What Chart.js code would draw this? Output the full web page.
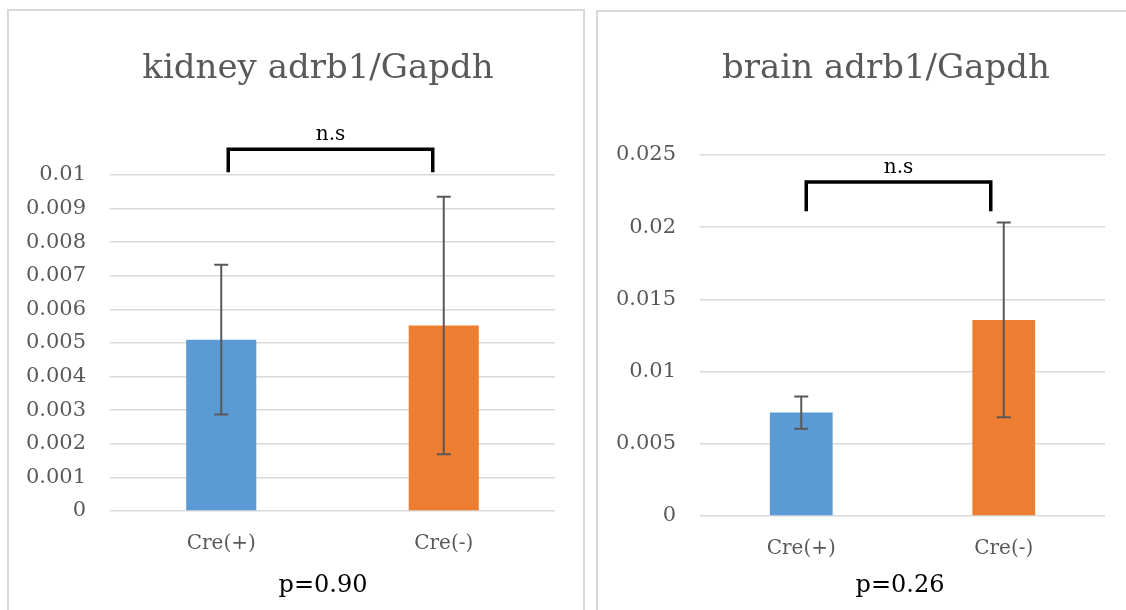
<!DOCTYPE html>
<html>
<head>
<meta charset="utf-8">
<script src="https://cdn.jsdelivr.net/npm/chart.js@4"></script>
<style>
  html, body { margin: 0; padding: 0; background: #fff; overflow: hidden; }
  body { width: 1126px; height: 610px; position: relative; }
  .panel { position: absolute; box-sizing: border-box; border: 2px solid #d9d9d9; height: 700px; }
  canvas { position: absolute; top: 0; }
</style>
</head>
<body>
<div class="panel" style="left:7px; top:9px; width:578px;"></div>
<div class="panel" style="left:596px; top:10px; width:600px;"></div>
<canvas id="kidney" width="590" height="610" style="left:0;"></canvas>
<canvas id="brain" width="536" height="610" style="left:590px;"></canvas>
<script>
const categories = ['Cre(+)', 'Cre(-)'];

const kidneyMeans = [0.00510, 0.00552];
const kidneyErrors = [0.00223, 0.00383];
const kidneyTicks = [0, 0.001, 0.002, 0.003, 0.004, 0.005, 0.006, 0.007, 0.008, 0.009, 0.01];

const brainMeans = [0.00716, 0.01358];
const brainErrors = [0.00112, 0.00674];
const brainTicks = [0, 0.005, 0.01, 0.015, 0.02, 0.025];

const barColors = ['#5b9bd5', '#ed7d31'];

Chart.defaults.font.family = "'DejaVu Serif', serif";
Chart.defaults.color = '#595959';

// error bars, significance bracket, title and p value
const extras = {
    id: 'extras',
    afterDatasetsDraw(chart, args, o) {
        const ctx = chart.ctx;
        const xs = chart.scales.x, ys = chart.scales.y;
        ctx.save();

        ctx.strokeStyle = '#595959';
        ctx.lineWidth = 2;
        o.means.forEach((m, i) => {
            const cx = xs.getPixelForValue(i);
            const top = ys.getPixelForValue(m + o.errors[i]);
            const bot = ys.getPixelForValue(m - o.errors[i]);
            ctx.beginPath();
            ctx.moveTo(cx, top); ctx.lineTo(cx, bot);
            ctx.moveTo(cx - 7, top); ctx.lineTo(cx + 7, top);
            ctx.moveTo(cx - 7, bot); ctx.lineTo(cx + 7, bot);
            ctx.stroke();
        });

        // bracket
        const bx1 = xs.getPixelForValue(0) + o.bracketDx[0];
        const bx2 = xs.getPixelForValue(1) + o.bracketDx[1];
        const by = ys.getPixelForValue(o.bracketTop);
        const bf = ys.getPixelForValue(o.bracketFoot);
        ctx.strokeStyle = '#000';
        ctx.lineWidth = 3.5;
        ctx.lineJoin = 'miter';
        ctx.beginPath();
        ctx.moveTo(bx1, bf); ctx.lineTo(bx1, by); ctx.lineTo(bx2, by); ctx.lineTo(bx2, bf);
        ctx.stroke();

        ctx.fillStyle = '#000';
        ctx.textAlign = 'center';
        ctx.textBaseline = 'alphabetic';
        ctx.font = "20px 'DejaVu Serif'";
        ctx.fillText('n.s', (bx1 + bx2) / 2, by - 9);

        ctx.font = "24px 'DejaVu Serif'";
        ctx.fillText(o.pText, o.pX, 592);

        ctx.fillStyle = '#595959';
        ctx.font = "34px 'DejaVu Serif'";
        ctx.fillText(o.title, o.titleX, 78);
        ctx.restore();
    }
};

function makeChart(id, means, errors, ticks, o) {
    return new Chart(document.getElementById(id), {
        type: 'bar',
        data: {
            labels: categories,
            datasets: [{
                data: means,
                backgroundColor: barColors,
                barPercentage: o.barPct,
                categoryPercentage: 1
            }]
        },
        options: {
            responsive: false,
            animation: false,
            layout: { padding: { left: 0, right: o.padRight, top: o.padTop, bottom: o.padBottom } },
            plugins: {
                legend: { display: false },
                tooltip: { enabled: false },
                extras: o.extras
            },
            scales: {
                x: {
                    grid: { display: false, drawTicks: false },
                    border: { display: false },
                    ticks: { padding: 21, font: { size: 20 }, color: '#595959' },
                    afterFit: s => { s.height = 50; }
                },
                y: {
                    min: 0,
                    max: ticks[ticks.length - 1],
                    afterBuildTicks: s => { s.ticks = ticks.map(v => ({ value: v })); },
                    grid: { color: '#d9d9d9', lineWidth: 1.5, drawTicks: false },
                    border: { display: false },
                    ticks: { padding: 24, font: { size: 21 }, color: '#595959', callback: v => String(v) },
                    afterFit: s => { s.width = 110; }
                }
            }
        },
        plugins: [extras]
    });
}

makeChart('kidney', kidneyMeans, kidneyErrors, kidneyTicks, {
    barPct: 0.315, padRight: 35, padTop: 175, padBottom: 49,
    extras: {
        means: kidneyMeans, errors: kidneyErrors,
        bracketTop: 0.01077, bracketFoot: 0.01008, bracketDx: [7, -11],
        title: 'kidney adrb1/Gapdh', titleX: 318,
        pText: 'p=0.90', pX: 323
    }
});

makeChart('brain', brainMeans, brainErrors, brainTicks, {
    barPct: 0.31, padRight: 21, padTop: 155, padBottom: 44,
    extras: {
        means: brainMeans, errors: brainErrors,
        bracketTop: 0.02313, bracketFoot: 0.02110, bracketDx: [5, -13],
        title: 'brain adrb1/Gapdh', titleX: 296,
        pText: 'p=0.26', pX: 310
    }
});
</script>
</body>
</html>
